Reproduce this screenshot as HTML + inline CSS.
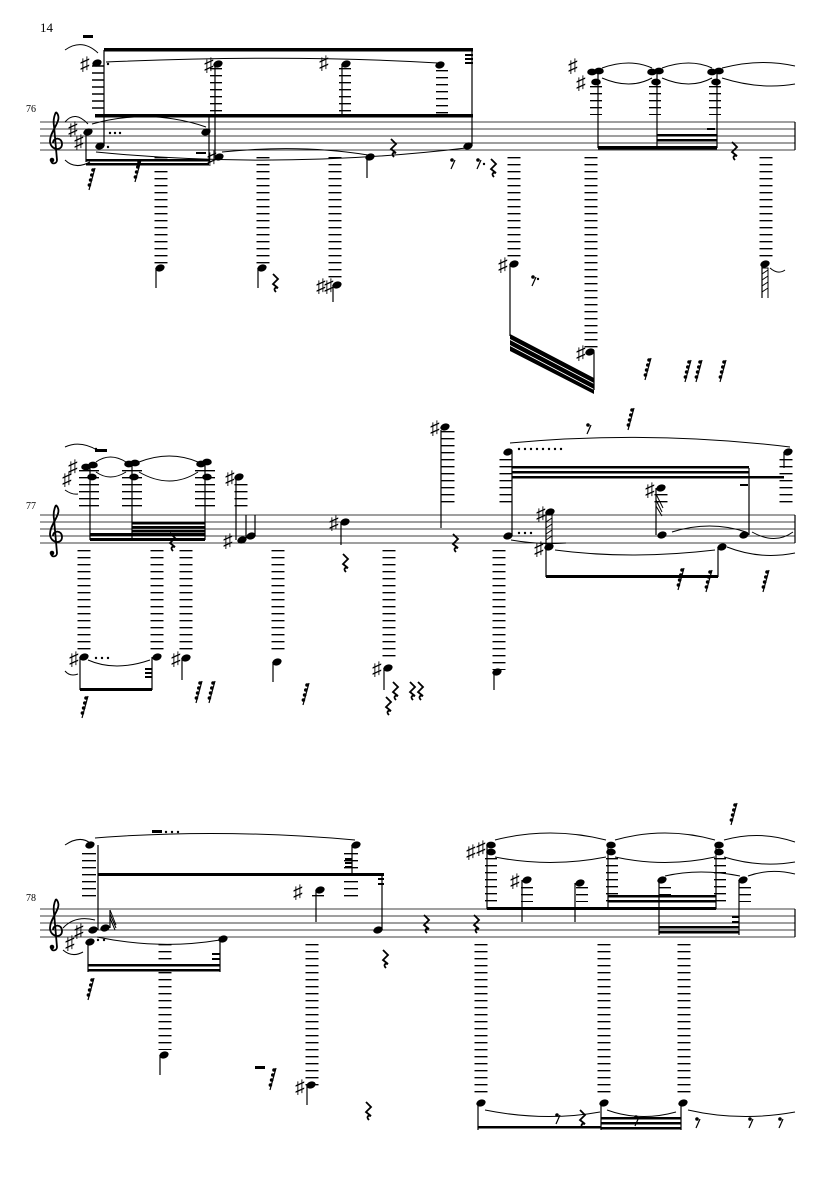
<!DOCTYPE html>
<html><head><meta charset="utf-8"><style>
html,body{margin:0;padding:0;background:#fff}
svg{display:block}
text{font-family:"Liberation Serif","DejaVu Serif",serif}
.ac{font-family:"DejaVu Sans",sans-serif;font-size:19px}
</style></head><body>
<svg width="835" height="1181" viewBox="0 0 835 1181" xmlns="http://www.w3.org/2000/svg">
<defs>
<symbol id="clef" overflow="visible"><path d="M9,-10 C17,-2 3,8 3,19 C3,28 15,30 15,22 C15,15 6,15 6,21 M9,-10 C7,-6 6,-2 7,4 L10,38 C10,42 4,43 4,38" fill="none" stroke="#000" stroke-width="1.8"/><circle cx="5" cy="38" r="2.3"/></symbol>
<symbol id="qr" overflow="visible"><path d="M-2,-8 L3,-3 L-2,2 L3,6 C0,5 -2,7 1,10" fill="none" stroke="#000" stroke-width="1.8"/></symbol>
<symbol id="sr" overflow="visible"><path d="M4,-12 L-2,10" stroke="#000" stroke-width="1.2"/><circle cx="2" cy="-10" r="1.8"/><circle cx="0.8" cy="-5" r="1.8"/><circle cx="-0.4" cy="0" r="1.8"/><circle cx="-1.6" cy="5" r="1.8"/></symbol>
<symbol id="er" overflow="visible"><path d="M3,-3 L-1,6" stroke="#000" stroke-width="1.2"/><circle cx="0" cy="-3" r="1.8"/></symbol>
</defs>
<g fill="#000" stroke="none">
<text x="40" y="32" font-size="13">14</text>
<text x="26" y="112" font-size="10">76</text>
<text x="26" y="509" font-size="10">77</text>
<text x="26" y="901" font-size="10">78</text>
</g>
<g stroke="#000" stroke-width="0.8">
<path d="M40,122H795M40,129H795M40,136H795M40,143H795M40,150H795"/>
<path d="M40,515H795M40,522H795M40,529H795M40,536H795M40,543H795"/>
<path d="M40,909H795M40,916H795M40,923H795M40,930H795M40,937H795"/>
<path d="M795,122V150M795,515V543M795,909V937" stroke-width="1.2"/>
</g>
<use href="#clef" x="47" y="122"/>
<use href="#clef" x="47" y="515"/>
<use href="#clef" x="47" y="909"/>

<g stroke="#000" stroke-width="1.4" fill="none">
<path d="M92,66H104M92,73H104M92,80H104M92,87H104M92,94H104M92,101H104M92,108H104"/>
</g>
<g stroke="#000" stroke-dasharray="1.4 5.6" fill="none">
<path stroke-width="13" d="M161,157V266M263,157V266M335,157V280M514,157V262M591,157V350M766,157V262"/>
<path stroke-width="12" d="M216,68V115M345,68V115M442,70V115M596,86V115M655,86V115M715,86V115"/>
<path stroke-width="20" d="M89,470V508M132,470V508M205,470V508"/>
<path stroke-width="13" d="M241,484V508M448,431V508M506,459V508M661,494V508M786,459V508"/>
<path stroke-width="13" d="M84,550V650M157,550V650M186,550V650M278,550V655M389,550V662M499,550V670"/>
<path stroke-width="14" d="M89,853V902M351,853V902"/>
<path stroke-width="13" d="M165,944V1050M312,944V1088M481,944V1098M604,944V1098M684,944V1098"/>
<path stroke-width="12" d="M491,858V902M612,858V902M720,858V902M527,887V902M582,887V902M665,887V902M745,887V902M318,895V902"/>
</g>

<g fill="#000">
<ellipse cx="97" cy="63" rx="4.8" ry="3.4" transform="rotate(-20 97 63)"/>
<ellipse cx="88" cy="132" rx="4.8" ry="3.4" transform="rotate(-20 88 132)"/>
<ellipse cx="100" cy="146" rx="4.8" ry="3.4" transform="rotate(-20 100 146)"/>
<ellipse cx="206" cy="132" rx="4.8" ry="3.4" transform="rotate(-20 206 132)"/>
<ellipse cx="219" cy="157" rx="4.8" ry="3.4" transform="rotate(-20 219 157)"/>
<ellipse cx="218" cy="64" rx="4.8" ry="3.4" transform="rotate(-20 218 64)"/>
<ellipse cx="346" cy="64" rx="4.8" ry="3.4" transform="rotate(-20 346 64)"/>
<ellipse cx="370" cy="157" rx="4.8" ry="3.4" transform="rotate(-20 370 157)"/>
<ellipse cx="440" cy="65" rx="4.8" ry="3.4" transform="rotate(-20 440 65)"/>
<ellipse cx="468" cy="146" rx="4.8" ry="3.4" transform="rotate(-20 468 146)"/>
<ellipse cx="160" cy="268" rx="4.8" ry="3.4" transform="rotate(-20 160 268)"/>
<ellipse cx="262" cy="268" rx="4.8" ry="3.4" transform="rotate(-20 262 268)"/>
<ellipse cx="337" cy="285" rx="4.8" ry="3.4" transform="rotate(-20 337 285)"/>
<ellipse cx="514" cy="264" rx="4.8" ry="3.4" transform="rotate(-20 514 264)"/>
<ellipse cx="590" cy="352" rx="4.8" ry="3.4" transform="rotate(-20 590 352)"/>
<ellipse cx="765" cy="264" rx="4.8" ry="3.4" transform="rotate(-20 765 264)"/>
<ellipse cx="592" cy="72" rx="4.8" ry="3.4"/><ellipse cx="599" cy="71" rx="4.8" ry="3.4"/><ellipse cx="596" cy="82" rx="4.8" ry="3.4"/>
<ellipse cx="652" cy="72" rx="4.8" ry="3.4"/><ellipse cx="659" cy="71" rx="4.8" ry="3.4"/><ellipse cx="656" cy="82" rx="4.8" ry="3.4"/>
<ellipse cx="712" cy="72" rx="4.8" ry="3.4"/><ellipse cx="719" cy="71" rx="4.8" ry="3.4"/><ellipse cx="716" cy="82" rx="4.8" ry="3.4"/>
<ellipse cx="86" cy="467" rx="4.8" ry="3.4"/><ellipse cx="93" cy="465" rx="4.8" ry="3.4"/><ellipse cx="92" cy="477" rx="4.8" ry="3.4"/>
<ellipse cx="129" cy="464" rx="4.8" ry="3.4"/><ellipse cx="135" cy="463" rx="4.8" ry="3.4"/><ellipse cx="134" cy="477" rx="4.8" ry="3.4"/>
<ellipse cx="201" cy="464" rx="4.8" ry="3.4"/><ellipse cx="207" cy="462" rx="4.8" ry="3.4"/><ellipse cx="207" cy="477" rx="4.8" ry="3.4"/>
<ellipse cx="239" cy="477" rx="4.8" ry="3.4" transform="rotate(-20 239 477)"/>
<ellipse cx="242" cy="540" rx="4.8" ry="3.4" transform="rotate(-20 242 540)"/>
<ellipse cx="251" cy="536" rx="4.8" ry="3.4" transform="rotate(-20 251 536)"/>
<ellipse cx="345" cy="522" rx="4.8" ry="3.4" transform="rotate(-20 345 522)"/>
<ellipse cx="84" cy="657" rx="4.8" ry="3.4" transform="rotate(-20 84 657)"/>
<ellipse cx="157" cy="657" rx="4.8" ry="3.4" transform="rotate(-20 157 657)"/>
<ellipse cx="186" cy="658" rx="4.8" ry="3.4" transform="rotate(-20 186 658)"/>
<ellipse cx="277" cy="662" rx="4.8" ry="3.4" transform="rotate(-20 277 662)"/>
<ellipse cx="388" cy="668" rx="4.8" ry="3.4" transform="rotate(-20 388 668)"/>
<ellipse cx="445" cy="427" rx="4.8" ry="3.4" transform="rotate(-20 445 427)"/>
<ellipse cx="497" cy="672" rx="4.8" ry="3.4" transform="rotate(-20 497 672)"/>
<ellipse cx="508" cy="452" rx="4.8" ry="3.4" transform="rotate(-20 508 452)"/>
<ellipse cx="508" cy="536" rx="4.8" ry="3.4" transform="rotate(-20 508 536)"/>
<ellipse cx="550" cy="512" rx="4.8" ry="3.4" transform="rotate(-20 550 512)"/>
<ellipse cx="549" cy="547" rx="4.8" ry="3.4" transform="rotate(-20 549 547)"/>
<ellipse cx="661" cy="488" rx="4.8" ry="3.4" transform="rotate(-20 661 488)"/>
<ellipse cx="662" cy="535" rx="4.8" ry="3.4" transform="rotate(-20 662 535)"/>
<ellipse cx="722" cy="547" rx="4.8" ry="3.4" transform="rotate(-20 722 547)"/>
<ellipse cx="744" cy="535" rx="4.8" ry="3.4" transform="rotate(-20 744 535)"/>
<ellipse cx="788" cy="452" rx="4.8" ry="3.4" transform="rotate(-20 788 452)"/>
<ellipse cx="90" cy="845" rx="4.8" ry="3.4" transform="rotate(-20 90 845)"/>
<ellipse cx="356" cy="845" rx="4.8" ry="3.4" transform="rotate(-20 356 845)"/>
<ellipse cx="93" cy="930" rx="4.8" ry="3.4" transform="rotate(-20 93 930)"/>
<ellipse cx="105" cy="928" rx="4.8" ry="3.4" transform="rotate(-20 105 928)"/>
<ellipse cx="90" cy="942" rx="4.8" ry="3.4" transform="rotate(-20 90 942)"/>
<ellipse cx="223" cy="939" rx="4.8" ry="3.4" transform="rotate(-20 223 939)"/>
<ellipse cx="164" cy="1055" rx="4.8" ry="3.4" transform="rotate(-20 164 1055)"/>
<ellipse cx="311" cy="1085" rx="4.8" ry="3.4" transform="rotate(-20 311 1085)"/>
<ellipse cx="320" cy="890" rx="4.8" ry="3.4" transform="rotate(-20 320 890)"/>
<ellipse cx="378" cy="930" rx="4.8" ry="3.4" transform="rotate(-20 378 930)"/>
<ellipse cx="491" cy="845" rx="4.8" ry="3.4"/><ellipse cx="491" cy="852" rx="4.8" ry="3.4"/>
<ellipse cx="611" cy="845" rx="4.8" ry="3.4"/><ellipse cx="611" cy="852" rx="4.8" ry="3.4"/>
<ellipse cx="719" cy="845" rx="4.8" ry="3.4"/><ellipse cx="719" cy="852" rx="4.8" ry="3.4"/>
<ellipse cx="527" cy="880" rx="4.8" ry="3.4" transform="rotate(-20 527 880)"/>
<ellipse cx="580" cy="883" rx="4.8" ry="3.4" transform="rotate(-20 580 883)"/>
<ellipse cx="662" cy="880" rx="4.8" ry="3.4" transform="rotate(-20 662 880)"/>
<ellipse cx="743" cy="880" rx="4.8" ry="3.4" transform="rotate(-20 743 880)"/>
<ellipse cx="481" cy="1103" rx="4.8" ry="3.4" transform="rotate(-20 481 1103)"/>
<ellipse cx="604" cy="1103" rx="4.8" ry="3.4" transform="rotate(-20 604 1103)"/>
<ellipse cx="683" cy="1103" rx="4.8" ry="3.4" transform="rotate(-20 683 1103)"/>
</g>

<g stroke="#000" stroke-width="1.2">
<path d="M104,50V146M86,132V162M209,116V162M215,64V157M342,64V116M367,157V178M472,50V146M156,268V288M258,268V288M333,285V302M510,264V336M594,352V390M598,72V148M657,72V148M717,72V148M762,266V298"/>
<path d="M90,467V540M132,464V540M205,462V540M236,477V540M246,540V515M255,536V515M341,522V545M80,657V690M152,657V690M182,658V680M273,662V682M384,668V690M441,430V528M494,672V690M512,452V536M546,512V577M656,488V535M718,547V577M749,535V468M784,452V468"/>
<path d="M98,845V930M352,845V874M110,928V910M88,942V972M220,939V972M160,1055V1075M307,1085V1105M316,890V922M382,930V874M487,845V909M522,880V922M575,883V922M608,845V909M659,880V935M716,845V909M739,880V935M478,1103V1130M601,1103V1130M681,1103V1130"/>
</g>

<g fill="#000">
<rect x="104" y="48" width="369" height="3.5"/>
<rect x="95" y="114" width="378" height="3.5"/>
<rect x="86" y="159" width="123" height="2.5"/><rect x="86" y="163" width="123" height="2.5"/>
<rect x="83" y="35" width="10" height="3"/>
<rect x="465" y="54" width="8" height="2"/><rect x="465" y="58" width="8" height="2"/><rect x="465" y="62" width="8" height="2"/>
<rect x="196" y="152" width="10" height="2"/>
<rect x="598" y="146" width="119" height="3.5"/>
<rect x="657" y="134" width="60" height="2.5"/><rect x="657" y="139" width="60" height="2.5"/>
<rect x="707" y="128" width="8" height="2"/>
<path d="M510,334L594,378L594,383L510,339Z M510,340L594,384L594,389L510,345Z M510,346L594,390L594,394L510,351Z"/>
<rect x="90" y="533" width="115" height="3"/><rect x="90" y="538" width="115" height="3"/>
<rect x="132" y="522" width="73" height="2.5"/><rect x="132" y="526" width="73" height="2.5"/><rect x="132" y="530" width="73" height="2.5"/>
<rect x="80" y="688" width="72" height="3"/>
<rect x="145" y="668" width="7" height="2"/><rect x="145" y="672" width="7" height="2"/><rect x="145" y="676" width="7" height="2"/>
<rect x="95" y="449" width="12" height="3"/>
<rect x="512" y="466" width="237" height="2.5"/><rect x="512" y="471" width="237" height="2.5"/><rect x="512" y="476" width="272" height="2.5"/>
<rect x="740" y="484" width="8" height="2"/>
<rect x="546" y="575" width="172" height="3"/>
<rect x="98" y="873" width="286" height="3"/>
<rect x="152" y="830" width="10" height="3"/>
<rect x="345" y="858" width="7" height="2"/><rect x="345" y="862" width="7" height="2"/><rect x="345" y="866" width="7" height="2"/>
<rect x="88" y="964" width="132" height="2.5"/><rect x="88" y="969" width="132" height="2.5"/>
<rect x="212" y="953" width="8" height="2"/><rect x="212" y="958" width="8" height="2"/>
<rect x="378" y="878" width="6" height="2"/><rect x="378" y="883" width="6" height="2"/>
<rect x="255" y="1066" width="10" height="3"/>
<rect x="487" y="907" width="229" height="3"/>
<rect x="608" y="895" width="108" height="2.5"/><rect x="608" y="900" width="108" height="2.5"/>
<rect x="659" y="926" width="80" height="2.5"/><rect x="659" y="931" width="80" height="2.5"/>
<rect x="732" y="916" width="7" height="2"/><rect x="732" y="921" width="7" height="2"/>
<rect x="478" y="1126" width="123" height="2.5"/>
<rect x="601" y="1117" width="80" height="2.5"/><rect x="601" y="1122" width="80" height="2.5"/><rect x="601" y="1127" width="80" height="2.5"/>
</g>

<g fill="none" stroke="#000" stroke-width="1">
<path d="M65,50Q82,38 98,53"/><path d="M65,122Q75,110 88,124"/><path d="M65,160Q75,170 90,162"/>
<path d="M106,62Q290,54 438,63"/><path d="M92,124Q150,108 206,127"/><path d="M96,152Q280,170 466,148"/>
<path d="M222,152Q300,144 368,155"/>
<path d="M602,68Q630,58 652,68M602,78Q630,90 652,78M662,68Q690,58 712,68M662,78Q690,90 712,78M722,68Q760,58 795,66M722,78Q760,90 795,84"/>
<path d="M770,268Q778,275 785,270"/>
<path d="M65,447Q80,440 97,450"/><path d="M65,490Q72,495 78,494"/>
<path d="M96,462Q110,452 126,462M96,472Q110,482 126,472M139,462Q170,450 198,462M139,472Q170,490 198,472"/>
<path d="M65,671Q70,677 78,674"/><path d="M88,660Q115,672 150,660"/>
<path d="M510,443Q650,430 790,447"/>
<path d="M511,540Q540,545 566,543"/>
<path d="M555,550Q630,560 715,550"/>
<path d="M672,532Q710,520 746,532M752,532Q775,545 793,532"/>
<path d="M727,547Q760,560 795,553"/>
<path d="M65,845Q80,835 90,843M63,928Q75,915 95,920M63,950Q72,958 83,952"/>
<path d="M95,838Q220,828 355,840"/>
<path d="M97,937Q160,950 220,940"/>
<path d="M495,840Q550,826 606,840M495,857Q550,868 606,857M615,840Q665,826 715,840M615,857Q665,868 715,857M724,840Q760,830 795,842M724,857Q760,868 795,862"/>
<path d="M665,876Q700,868 740,876M748,876Q770,868 795,874"/>
<path d="M485,1110Q545,1122 600,1112M607,1110Q640,1122 676,1112M688,1110Q740,1122 795,1112"/>
</g>

<g class="ac" fill="#000">
<text x="80" y="70">♯</text><text x="68" y="135">♯</text><text x="74" y="148">♯</text>
<text x="204" y="71">♯</text><text x="207" y="164">♯</text><text x="319" y="69">♯</text><text x="316" y="292">♯</text><text x="324" y="292">♯</text>
<text x="498" y="271">♯</text><text x="576" y="359">♯</text><text x="568" y="72">♯</text><text x="576" y="89">♯</text>
<text x="68" y="473">♯</text><text x="62" y="485">♯</text><text x="225" y="484">♯</text><text x="223" y="547">♯</text><text x="329" y="529">♯</text>
<text x="69" y="665">♯</text><text x="171" y="665">♯</text><text x="372" y="675">♯</text>
<text x="430" y="434">♯</text><text x="536" y="520">♯</text><text x="534" y="555">♯</text><text x="645" y="496">♯</text>
<text x="74" y="937">♯</text><text x="65" y="949">♯</text><text x="293" y="898">♯</text><text x="295" y="1093">♯</text>
<text x="466" y="858">♯</text><text x="476" y="854">♯</text><text x="510" y="887">♯</text>
</g>

<g fill="#000">
<use href="#qr" x="393" y="147"/><use href="#qr" x="493" y="167"/><use href="#qr" x="734" y="150"/><use href="#qr" x="275" y="282"/>
<use href="#er" x="452" y="163"/><use href="#er" x="478" y="163"/><use href="#er" x="533" y="280"/>
<circle cx="484" cy="164" r="1.2"/><circle cx="538" cy="279" r="1.2"/>
<use href="#sr" x="91" y="180"/><use href="#sr" x="137" y="172"/>
<use href="#sr" x="647" y="370"/><use href="#sr" x="687" y="372"/><use href="#sr" x="698" y="372"/><use href="#sr" x="722" y="372"/>
<use href="#qr" x="172" y="541"/><use href="#qr" x="345" y="562"/><use href="#qr" x="455" y="542"/>
<use href="#sr" x="84" y="708"/><use href="#sr" x="198" y="693"/><use href="#sr" x="211" y="693"/><use href="#sr" x="305" y="695"/>
<use href="#qr" x="388" y="705"/><use href="#qr" x="395" y="690"/><use href="#qr" x="412" y="690"/><use href="#qr" x="420" y="690"/>
<use href="#er" x="588" y="428"/><use href="#sr" x="630" y="420"/>
<use href="#sr" x="680" y="580"/><use href="#sr" x="708" y="582"/><use href="#sr" x="765" y="582"/>
<use href="#sr" x="90" y="990"/><use href="#sr" x="272" y="1080"/><use href="#qr" x="385" y="958"/><use href="#qr" x="368" y="1110"/>
<use href="#qr" x="426" y="923"/><use href="#qr" x="476" y="923"/><use href="#sr" x="733" y="815"/>
<use href="#er" x="557" y="1118"/><use href="#qr" x="582" y="1118"/><use href="#er" x="636" y="1120"/>
<use href="#er" x="697" y="1122"/><use href="#er" x="750" y="1122"/><use href="#er" x="780" y="1122"/>
</g>
<g fill="#000">
<circle cx="108" cy="64" r="1.2"/><circle cx="110" cy="133" r="1.2"/><circle cx="115" cy="133" r="1.2"/><circle cx="120" cy="133" r="1.2"/><circle cx="108" cy="147" r="1.2"/>
<circle cx="96" cy="449" r="1.2"/><circle cx="96" cy="658" r="1.2"/><circle cx="102" cy="658" r="1.2"/><circle cx="108" cy="658" r="1.2"/>
<circle cx="519" cy="449" r="1.2"/><circle cx="525" cy="449" r="1.2"/><circle cx="531" cy="449" r="1.2"/><circle cx="537" cy="449" r="1.2"/><circle cx="543" cy="449" r="1.2"/><circle cx="549" cy="449" r="1.2"/><circle cx="555" cy="449" r="1.2"/><circle cx="561" cy="449" r="1.2"/>
<circle cx="519" cy="533" r="1.2"/><circle cx="525" cy="533" r="1.2"/><circle cx="531" cy="533" r="1.2"/>
<circle cx="166" cy="832" r="1.2"/><circle cx="172" cy="832" r="1.2"/><circle cx="178" cy="832" r="1.2"/>
<circle cx="98" cy="940" r="1.2"/><circle cx="104" cy="940" r="1.2"/>
</g>
<g stroke="#000" stroke-width="1" fill="none">
<path d="M762,268H768V298M762,274L768,270M762,280L768,276M762,286L768,282M762,292L768,288"/>
<path d="M546,515H552V545M546,522L552,518M546,528L552,524M546,534L552,530M546,540L552,536"/>
<path d="M656,500L662,512M656,506L662,516M656,494L663,508"/>
<path d="M110,910L116,925M110,914L116,928M110,918L115,930"/>
</g>
</svg>
</body></html>
